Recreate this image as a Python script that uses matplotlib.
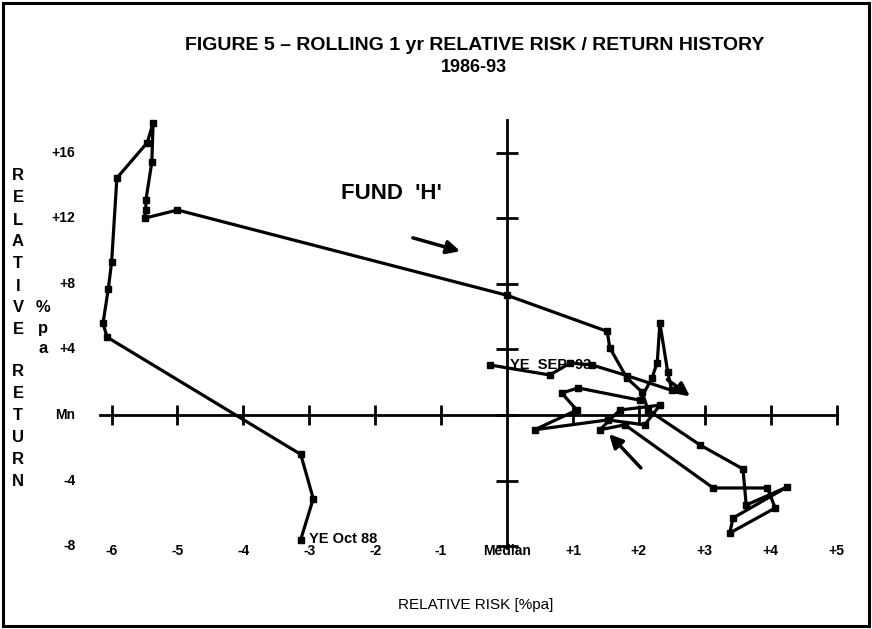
import matplotlib
matplotlib.use("Agg")
import matplotlib.pyplot as plt
from matplotlib.patches import Rectangle

plt.rcParams['font.family'] = ['Liberation Sans', 'DejaVu Sans']

# rolling 1 yr relative risk (x) / relative return (y), YE Oct 88 -> YE Sep 93
risk = [-3.13, -2.94, -3.13, -6.07, -6.13, -6.05, -6.00, -5.92, -5.46, -5.37,
        -5.39, -5.48, -5.48, -5.50, -5.00, 0.00, 1.52, 1.56, 1.82, 2.05,
        2.14, 2.93, 3.58, 3.63, 4.25, 3.43, 3.38, 4.07, 3.95, 3.13,
        1.79, 1.41, 1.71, 2.32, 2.09, 1.53, 0.42, 1.06, 0.83, 1.08,
        2.02, 2.20, 2.28, 2.32, 2.44, 2.50, 1.82, 1.29, 0.96, 0.65, -0.26]
ret = [-7.6, -5.1, -2.4, 4.75, 5.6, 7.7, 9.3, 14.45, 16.6, 17.8,
       15.4, 13.1, 12.5, 12.0, 12.5, 7.3, 5.1, 4.1, 2.25, 1.4,
       0.3, -1.83, -3.29, -5.49, -4.39, -6.28, -7.2, -5.67, -4.45, -4.45,
       -0.6, -0.9, 0.3, 0.6, -0.6, -0.3, -0.9, 0.3, 1.34, 1.65,
       0.9, 2.26, 3.2, 5.6, 2.6, 1.5, 2.4, 3.05, 3.17, 2.44, 3.05]

xticks = [-6, -5, -4, -3, -2, -1, 0, 1, 2, 3, 4, 5]
xlabels = ['-6', '-5', '-4', '-3', '-2', '-1', 'Median', '+1', '+2', '+3', '+4', '+5']
yticks = [16, 12, 8, 4, 0, -4, -8]
ylabels = ['+16', '+12', '+8', '+4', 'Mn', '-4', '-8']

fig = plt.figure(figsize=(8.72, 6.29), dpi=100)
ax = fig.add_axes([0, 0, 1, 1])
# axes cover the whole figure: 65.9 px per risk unit, 16.4 px per return unit
ax.set_xlim(-507 / 65.9, (872 - 507) / 65.9)
ax.set_ylim((415 - 629) / 16.4, 415 / 16.4)
ax.axis('off')

# cross-shaped axes through median / mean
ax.plot([-6.18, 5.0], [0, 0], color='k', lw=2)
ax.plot([0, 0], [-8.1, 18.0], color='k', lw=2)
ax.plot([t for t in xticks if t != 0], [0] * (len(xticks) - 1), ls='none',
        marker='|', ms=14, mew=2, color='k')
ax.plot([0] * len(yticks), yticks, ls='none', marker='_', ms=16, mew=2, color='k')

for t, lab in zip(xticks, xlabels):
    ax.text(t, -8.3, lab, ha='center', va='center', fontsize=10, fontweight='bold')
for t, lab in zip(yticks, ylabels):
    ax.text(-6.55, t, lab, ha='right', va='center', fontsize=10, fontweight='bold')

# history path
ax.plot(risk, ret, color='k', lw=2.3, marker='s', ms=5, clip_on=False)
ax.text(risk[0] + 0.12, ret[0] + 0.05, 'YE Oct 88', ha='left', va='center',
        fontsize=10.5, fontweight='bold')
ax.text(risk[-1] + 0.3, ret[-1], 'YE  SEP  93', ha='left', va='center',
        fontsize=10.5, fontweight='bold')

arrow = dict(arrowstyle='-|>', lw=2.5, color='k', mutation_scale=20)
ax.annotate('', xy=(-0.67, 9.94), xytext=(-1.47, 10.85), arrowprops=arrow)
ax.annotate('', xy=(1.52, -1.04), xytext=(2.06, -3.35), arrowprops=arrow)
ax.annotate('', xy=(2.81, 1.04), xytext=(2.40, 2.26), arrowprops=arrow)

ax.text(-1.75, 13.5, "FUND  'H'", ha='center', va='center', fontsize=16, fontweight='bold')

# titles and axis labels
fig.text(0.544, 0.927, 'FIGURE 5 \u2013 ROLLING 1 yr RELATIVE RISK / RETURN HISTORY',
         ha='center', va='center', fontsize=14, fontweight='bold')
fig.text(0.544, 0.892, '1986-93', ha='center', va='center', fontsize=13, fontweight='bold')
fig.text(0.545, 0.038, 'RELATIVE RISK [%pa]', ha='center', va='center', fontsize=11)

ylab1 = 'RELATIVE'
ylab2 = 'RETURN'
for i, ch in enumerate(ylab1):
    fig.text(18 / 872, 1 - (176 + 22 * i) / 629, ch, ha='center', va='center',
             fontsize=12, fontweight='bold')
for i, ch in enumerate(ylab2):
    fig.text(18 / 872, 1 - (371 + 22 * i) / 629, ch, ha='center', va='center',
             fontsize=12, fontweight='bold')
for ch, py in zip('%pa', [308, 328, 349]):
    fig.text(43 / 872, 1 - py / 629, ch, ha='center', va='center',
             fontsize=12, fontweight='bold')

fig.patches.append(Rectangle((0.003, 0.005), 0.993, 0.99, transform=fig.transFigure,
                             fill=False, lw=2.2, color='k'))

fig.savefig('out.png', dpi=100)
